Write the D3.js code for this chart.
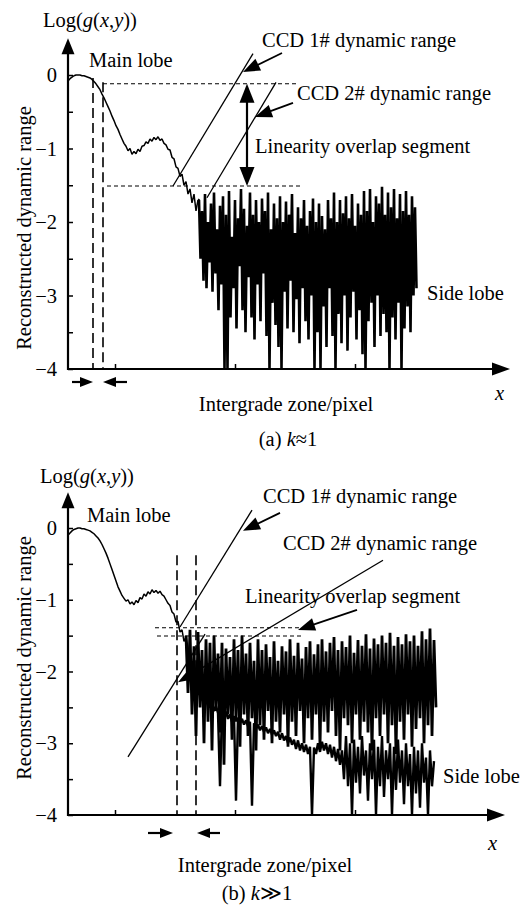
<!DOCTYPE html>
<html><head><meta charset="utf-8">
<script src="https://cdn.jsdelivr.net/npm/d3@7/dist/d3.min.js"></script>
<style>
html,body{margin:0;padding:0;background:#fff;}
text{font-family:"Liberation Serif","Times New Roman",serif;fill:#000;}
</style></head>
<body><svg id="c" width="530" height="906"></svg>
<script>
// ---------- DATA (x in pixel-index units, y = log10 g) ----------
const yTickValues = [-4,-3.5,-3,-2.5,-2,-1.5,-1,-0.5,0];
const xTickValues = [47,167,287];

// panel (a): main lobe, sampled every 2 units starting at 0
const topMain = [-0.08,-0.05,-0.03,-0.01,0,0,0,-0.01,-0.01,-0.02,-0.03,-0.04,-0.06,-0.09,-0.12,-0.16,-0.20,-0.26,-0.31,-0.37,-0.43,-0.49,-0.56,-0.62,-0.69,-0.74,-0.81,-0.87,-0.93,-0.97,-1.03,-1.00,-1.08,-1.04,-1.07,-1.01,-1.04,-0.97,-0.96,-0.91,-0.93,-0.87,-0.90,-0.85,-0.88,-0.84,-0.89,-0.87,-0.93,-0.95,-1.01,-1.02,-1.12,-1.14,-1.25,-1.27,-1.38,-1.35,-1.50,-1.45,-1.62,-1.55,-1.74,-1.62,-1.85,-1.70];
// panel (a): side-lobe noise, every 1.5 units from 131
const topNoise = [-1.7,-2.5,-1.85,-2.8,-1.62,-2.9,-2.0,-2.55,-1.75,-2.95,
-1.6,-2.7,-2.1,-3.2,-1.78,-2.85,-1.65,-4.0,-1.9,-4.0,
-1.58,-3.3,-2.2,-2.9,-1.7,-3.45,-1.95,-2.6,-1.55,-3.2,
-1.82,-3.5,-2.05,-2.75,-1.6,-3.3,-1.9,-3.6,-1.7,-2.85,
-2.0,-3.35,-1.68,-2.7,-1.85,-3.55,-1.6,-4.0,-2.1,-3.1,
-1.75,-3.4,-1.95,-3.7,-1.65,-4.0,-2.0,-2.95,-1.72,-3.45,
-1.9,-2.8,-1.62,-3.5,-2.15,-3.05,-1.8,-3.65,-1.95,-2.9,
-1.7,-3.35,-2.05,-3.6,-1.85,-3.0,-1.68,-4.0,-2.0,-3.5,
-1.75,-4.0,-1.92,-3.15,-2.1,-3.7,-1.7,-2.9,-1.95,-3.55,
-1.6,-4.0,-2.0,-3.25,-1.7,-3.65,-1.88,-3.0,-1.65,-3.75,
-1.95,-3.3,-1.62,-2.95,-2.05,-3.6,-1.75,-3.2,-1.9,-3.8,
-1.58,-4.0,-1.85,-3.35,-1.55,-3.1,-2.0,-3.7,-1.65,-3.0,
-1.75,-3.55,-1.52,-3.25,-1.9,-3.5,-1.6,-4.0,-1.8,-3.3,
-1.55,-3.6,-1.95,-3.1,-1.62,-4.0,-1.85,-3.45,-1.58,-3.15,
-1.9,-3.5,-1.65,-3.0,-1.8,-2.9];

// panel (b): main lobe, every 2 units from 0
const botMain = [-0.10,-0.07,-0.04,-0.02,-0.01,0,0,-0.01,-0.01,-0.02,-0.03,-0.04,-0.06,-0.08,-0.11,-0.14,-0.18,-0.23,-0.29,-0.35,-0.42,-0.50,-0.58,-0.66,-0.74,-0.82,-0.88,-0.94,-0.98,-1.02,-1.00,-1.06,-1.03,-1.07,-1.01,-1.04,-0.97,-0.99,-0.92,-0.95,-0.89,-0.92,-0.86,-0.90,-0.87,-0.91,-0.88,-0.93,-0.95,-1.00,-1.05,-1.08,-1.17,-1.20,-1.31,-1.30,-1.45,-1.42,-1.58,-1.52];
// panel (b): upper noisy band, every 2 units from 118
const botBand = [-1.5,-2.3,-1.42,-2.6,-1.65,-2.9,-1.45,-2.5,-1.7,-3.0,
-1.55,-2.7,-1.6,-3.1,-1.5,-2.55,-1.75,-2.85,-1.6,-3.3,
-1.68,-2.6,-1.8,-2.95,-1.55,-2.7,-1.7,-3.05,-1.5,-2.6,
-1.75,-2.9,-1.6,-2.65,-1.85,-3.1,-1.55,-2.75,-1.7,-2.95,
-1.62,-2.55,-1.8,-3.0,-1.58,-2.7,-1.85,-2.85,-1.65,-2.6,
-1.72,-3.05,-1.55,-2.7,-1.78,-2.9,-1.6,-2.55,-1.82,-3.0,
-1.66,-2.65,-1.58,-2.95,-1.76,-2.6,-1.62,-3.05,-1.55,-2.7,
-1.72,-2.85,-1.6,-2.55,-1.52,-2.9,-1.7,-3.1,-1.58,-2.65,
-1.66,-2.75,-1.5,-3.0,-1.74,-2.6,-1.56,-2.95,-1.64,-2.7,
-1.48,-2.85,-1.68,-3.1,-1.54,-2.65,-1.62,-2.9,-1.5,-2.6,
-1.6,-3.0,-1.46,-2.75,-1.64,-3.15,-1.52,-2.7,-1.62,-2.95,
-1.48,-2.6,-1.58,-3.05,-1.5,-2.8,-1.64,-2.65,-1.44,-3.0,
-1.55,-2.75,-1.4,-2.9,-1.56,-2.5];
// panel (b): lower declining side lobe, every 2 units from 120
const botLower = [-1.75,-1.95,-2.0,-2.2,-2.15,-2.32,-2.28,-2.4,-2.35,-2.45,
-2.4,-2.5,-2.44,-2.55,-2.48,-2.58,-3.6,-2.55,-2.62,-2.56,
-2.66,-2.6,-2.7,-2.62,-3.8,-2.64,-2.72,-2.66,-2.74,-2.68,
-2.76,-2.7,-3.87,-2.72,-2.8,-2.74,-2.82,-2.76,-2.84,-2.78,
-2.86,-2.8,-2.88,-2.82,-2.9,-2.84,-2.95,-2.86,-2.96,-2.9,
-3.0,-2.92,-3.02,-2.95,-3.08,-2.96,-3.1,-3.0,-3.12,-3.02,
-3.15,-3.05,-4.0,-3.06,-3.15,-3.0,-3.12,-2.98,-3.1,-3.0,
-3.15,-3.02,-3.2,-3.05,-3.25,-3.08,-3.3,-3.1,-3.5,-2.9,
-3.6,-3.0,-4.0,-2.95,-3.55,-3.05,-3.7,-2.9,-3.45,-3.1,
-3.8,-3.0,-3.5,-2.95,-4.0,-3.05,-3.6,-2.9,-3.75,-3.1,
-3.5,-3.0,-4.0,-3.05,-3.65,-2.95,-3.55,-3.1,-3.85,-3.0,
-3.6,-3.15,-4.0,-3.05,-3.7,-3.1,-3.9,-3.0,-3.55,-3.2,
-4.0,-3.1,-3.6,-3.25];

// annotation geometry in data units [x, y]
const topDashV = [[25,-0.04],[35,-0.1]];
const topDashH = [[35,229,-0.12],[39,235,-1.51]];
const topDouble = [179,-0.12,-1.51];
const topCCD1 = [[105,-1.51],[185,0.29]];
const topCCD2 = [[139,-1.67],[208,-0.1]];
const topPtr1 = [[214,0.30],[175,0.04]];
const topPtr2 = [[225,-0.38],[187,-0.57]];
const topZone = [[4,25],[59,35]];

const botDashV = [[109,-0.38],[128,-0.38]];
const botDashH = [[87,234,-1.39],[89,234,-1.505]];
const botCCD1 = [[112,-1.38],[184,0.25]];
const botLineB = [[60,-3.19],[137,-1.48]];
const botCCD2 = [[315,-0.45],[110,-2.15]];
const botPtr1 = [[212,0.21],[175,-0.04]];
const botPtrL = [[289,-1.14],[230,-1.42]];
const botZone = [[80,105],[152,129]];

// ---------- DRAW ----------
const svg = d3.select("#c");
const FS = 20.5;
const FF = '"Liberation Serif","Times New Roman",serif';
const x = d3.scaleLinear().domain([0,440]).range([68,508]);

function arrowHead(g, tip, from, len, hw){
  const dx = tip[0]-from[0], dy = tip[1]-from[1];
  const L = Math.hypot(dx,dy), ux = dx/L, uy = dy/L;
  const bx = tip[0]-ux*len, by = tip[1]-uy*len;
  g.append("path")
    .attr("d", `M${tip[0]},${tip[1]}L${bx-uy*hw},${by+ux*hw}L${bx+uy*hw},${by-ux*hw}Z`)
    .attr("fill","#000");
}
function seg(g, a, b, w, dash){
  const l = g.append("line").attr("x1",a[0]).attr("y1",a[1]).attr("x2",b[0]).attr("y2",b[1])
    .attr("stroke","#000").attr("stroke-width",w);
  if(dash) l.attr("stroke-dasharray",dash);
  return l;
}
function rich(g, px, py, parts, anchor){
  const t = g.append("text").attr("x",px).attr("y",py).attr("font-size",FS).attr("font-family",FF);
  if(anchor) t.attr("text-anchor",anchor);
  parts.forEach(p=>{
    const s = t.append("tspan").text(p[0]);
    if(p[1]) s.attr("font-style","italic");
  });
  return t;
}

function panel(cfg){
  const g = svg.append("g");
  const y = d3.scaleLinear().domain([-4,0]).range(cfg.yr);
  const P = (d)=>[x(d[0]), y(d[1])];

  const line = d3.line().x(d=>x(d[0])).y(d=>y(d[1]));
  cfg.series.forEach(s=>{
    g.append("path").datum(s.pts).attr("d",line)
      .attr("fill","none").attr("stroke","#000").attr("stroke-width",s.w)
      .attr("stroke-linejoin","bevel");
  });

  const ya = d3.axisLeft(y).tickValues(yTickValues).tickSizeInner(-5).tickSizeOuter(0).tickPadding(11)
    .tickFormat(d=> Number.isInteger(d) ? d3.format("d")(d) : "");
  const yg = g.append("g").attr("transform",`translate(${x(0)},0)`).call(ya);
  yg.select(".domain").remove();
  yg.selectAll(".tick line").attr("stroke","#000").attr("stroke-width",1.5);
  yg.selectAll("text").attr("font-size",FS).attr("font-family",FF).attr("fill","#000");
  const xa = d3.axisBottom(x).tickValues(xTickValues).tickSizeInner(-5).tickSizeOuter(0).tickFormat("");
  const xg = g.append("g").attr("transform",`translate(0,${y(-4)})`).call(xa);
  xg.select(".domain").remove();
  xg.selectAll(".tick line").attr("stroke","#000").attr("stroke-width",1.5);

  seg(g,[x(0),y(-4)+1],[x(0),y(0.5)+12],2.2);
  arrowHead(g,[x(0),y(0.5)],[x(0),y(0)],16,6.5);
  seg(g,[x(0)-1,y(-4)],[x(cfg.xEnd)-14,y(-4)],2.2);
  arrowHead(g,[x(cfg.xEnd),y(-4)],[x(0),y(-4)],18,6.5);

  cfg.dashV.forEach(d=> seg(g,P(d),P([d[0],-4]),1.6,"10,5"));
  cfg.dashH.forEach(d=> seg(g,P([d[0],d[2]]),P([d[1],d[2]]),1.1,"4,3"));
  cfg.lines.forEach(l=> seg(g,P(l[0]),P(l[1]),1.3));
  cfg.ptrs.forEach(p=>{
    const a=P(p[0]), b=P(p[1]);
    const dx=b[0]-a[0], dy=b[1]-a[1], L=Math.hypot(dx,dy);
    seg(g,a,[b[0]-dx/L*10,b[1]-dy/L*10],p[4]||1.8);
    arrowHead(g,b,a,p[2]||17,p[3]||6.5);
  });
  const zy = y(-4)+cfg.zoneDy;
  cfg.zone.forEach(z=>{
    const a=[x(z[0]),zy], b=[x(z[1]),zy];
    seg(g,a,[b[0]+(a[0]<b[0]?-8:8),zy],2.2);
    arrowHead(g,b,a,13,5);
  });

  rich(g,cfg.t.log[0],cfg.t.log[1],[["Log("],["g",1],["("],["x",1],[","],["y",1],["))"]]);
  rich(g,cfg.t.main[0],cfg.t.main[1],[["Main lobe"]]);
  rich(g,cfg.t.c1[0],cfg.t.c1[1],[["CCD 1# dynamic range"]]);
  rich(g,cfg.t.c2[0],cfg.t.c2[1],[["CCD 2# dynamic range"]]);
  rich(g,cfg.t.lin[0],cfg.t.lin[1],[["Linearity overlap segment"]]);
  rich(g,cfg.t.side[0],cfg.t.side[1],[["Side lobe"]]);
  rich(g,cfg.t.x[0],cfg.t.x[1],[["x",1]]);
  rich(g,cfg.t.zone[0],cfg.t.zone[1],[["Intergrade zone/pixel"]],"middle");
  rich(g,cfg.t.cap[0],cfg.t.cap[1],cfg.t.capParts,"middle");
  g.append("text").attr("transform",`translate(31,${cfg.t.ytitleY}) rotate(-90)`)
    .attr("text-anchor","middle").attr("font-size",FS).attr("font-family",FF).text("Reconstructed dynamic range");
  return g;
}

// panel (a)
const topJoin = [[2*(topMain.length-1), topMain[topMain.length-1]]];
panel({
  yr:[369,75], xEnd:442,
  series:[
    {pts: topMain.map((v,i)=>[2*i,v]), w:1.5},
    {pts: topJoin.concat(topNoise.map((v,i)=>[131+1.5*i,v])), w:2.6}
  ],
  dashV: topDashV, dashH: topDashH,
  lines:[topCCD1, topCCD2],
  ptrs:[[topPtr1[0],topPtr1[1]],[topPtr2[0],topPtr2[1]]],
  zone: topZone, zoneDy: 13,
  t:{log:[43,27],main:[89,67],c1:[262,47],c2:[297,100],lin:[255,153],side:[427,300],x:[495,400],
     zone:[286,411],cap:[288,446],capParts:[["(a) "],["k",1],["≈1"]],ytitleY:228}
});
(function(){
  const y = d3.scaleLinear().domain([-4,0]).range([369,75]);
  const g = svg.append("g");
  const a=[x(topDouble[0]),y(topDouble[1])], b=[x(topDouble[0]),y(topDouble[2])];
  seg(g,[a[0],a[1]+12],[b[0],b[1]-12],2.2);
  arrowHead(g,a,b,19,7.5);
  arrowHead(g,b,a,19,7.5);
})();

// panel (b)
const botJoin = [[2*(botMain.length-1), botMain[botMain.length-1]]];
panel({
  yr:[815,528], xEnd:437,
  series:[
    {pts: botMain.map((v,i)=>[2*i,v]), w:1.5},
    {pts: botJoin.concat(botBand.map((v,i)=>[118+2*i,v])), w:2.8},
    {pts: botJoin.concat(botLower.map((v,i)=>[120+2*i,v])), w:2.4}
  ],
  dashV: botDashV, dashH: botDashH,
  lines:[botCCD1, botLineB],
  ptrs:[[botCCD2[0],botCCD2[1],14,5,1.3],[botPtr1[0],botPtr1[1]],[botPtrL[0],botPtrL[1]]],
  zone: botZone, zoneDy: 18,
  t:{log:[40,483],main:[87,522],c1:[263,503],c2:[283,550],lin:[245,603],side:[443,783],x:[488,850],
     zone:[265,872],cap:[257,900],capParts:[["(b) "],["k",1],["≫1"]],ytitleY:658}
});
</script></body></html>
